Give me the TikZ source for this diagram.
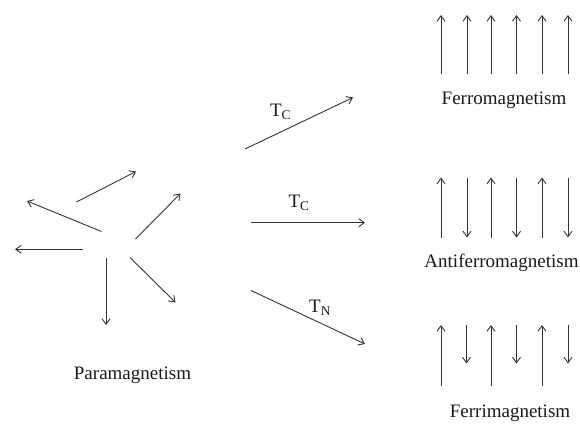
\documentclass[tikz,border=0pt]{standalone}
\usepackage{fontspec}
\setmainfont{Liberation Serif}
\usetikzlibrary{arrows.meta}
\begin{document}
\begin{tikzpicture}[x=1pt,y=-1pt,
  spin/.style={draw=black!80,line width=0.9pt,-{Straight Barb[length=5.5pt,width=8pt,line width=0.9pt]}},
  lbl/.style={inner sep=0pt,text=black!90,font=\fontsize{19}{22}\selectfont},
  tlbl/.style={inner sep=0pt,text=black!90,font=\fontsize{19}{22}\selectfont}]
\useasboundingbox (0,0) rectangle (580,423);
% paramagnetic spins
\coordinate (p1s) at (76.5,202); \coordinate (p1e) at (136,171.5);
\coordinate (p2s) at (101.5,231.5); \coordinate (p2e) at (27,201);
\coordinate (p3s) at (82.5,249.3); \coordinate (p3e) at (15,249.3);
\coordinate (p4s) at (106,257.5); \coordinate (p4e) at (106,325);
\coordinate (p5s) at (130,257.5); \coordinate (p5e) at (175.5,302.5);
\coordinate (p6s) at (135.5,239); \coordinate (p6e) at (180.5,193.5);
\foreach \i in {1,...,6} \draw[spin] (p\i s) -- (p\i e);
\node[lbl] (para) at (132.5,375) {Paramagnetism};
% transitions
\coordinate (t1s) at (245,149); \coordinate (t1e) at (353,97.5);
\coordinate (t2s) at (251,222.7); \coordinate (t2e) at (365,222.7);
\coordinate (t3s) at (251,290.5); \coordinate (t3e) at (365,344);
\draw[spin] (t1s) -- (t1e);
\draw[spin] (t2s) -- (t2e);
\draw[spin] (t3s) -- (t3e);
\node[tlbl] (tc1) at (280.5,111.5) {T\textsubscript{C}};
\node[tlbl] (tc2) at (299,203) {T\textsubscript{C}};
\node[tlbl] (tn) at (320,308) {T\textsubscript{N}};
% ferromagnetism
\foreach \x [count=\i] in {441,467,491,516.5,542,568}
  \draw[spin] (\x,73.5) coordinate (f\i s) -- (\x,15) coordinate (f\i e);
\node[lbl] (ferro) at (504,100) {Ferromagnetism};
% antiferromagnetism
\foreach \x [count=\i] in {441,491,542}
  \draw[spin] (\x,237.5) coordinate (a\i s) -- (\x,177.5) coordinate (a\i e);
\foreach \x [count=\i] in {467,516.5,568}
  \draw[spin] (\x,177.5) coordinate (d\i s) -- (\x,237.5) coordinate (d\i e);
\node[lbl] (antiferro) at (501.5,263) {Antiferromagnetism};
% ferrimagnetism
\foreach \x [count=\i] in {441,491,542}
  \draw[spin] (\x,386) coordinate (r\i s) -- (\x,325) coordinate (r\i e);
\foreach \x [count=\i] in {466.5,516.5,568}
  \draw[spin] (\x,325) coordinate (q\i s) -- (\x,363.5) coordinate (q\i e);
\node[lbl] (ferri) at (510,413) {Ferrimagnetism};
\end{tikzpicture}
\end{document}
